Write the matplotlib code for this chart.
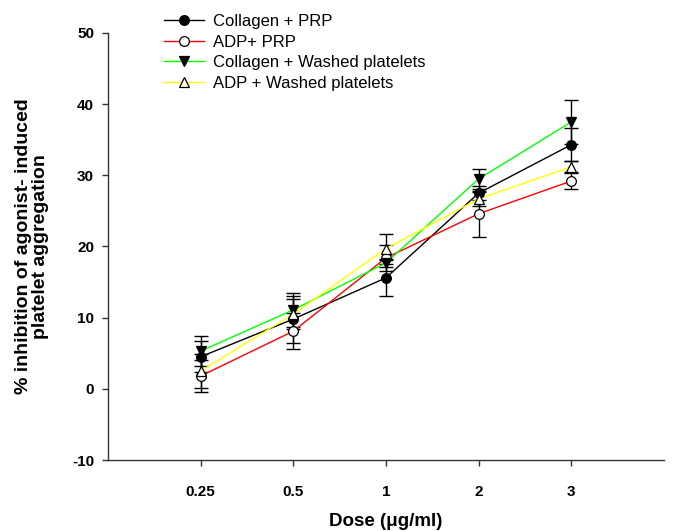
import matplotlib.pyplot as plt

plt.rcParams['font.family'] = ['Liberation Sans', 'DejaVu Sans']
plt.rcParams['axes.unicode_minus'] = False

doses = ['0.25', '0.5', '1', '2', '3']

collagen_prp = [4.5, 9.8, 15.6, 27.5, 34.3]
collagen_prp_err = [2.2, 3.3, 2.5, 1.0, 2.3]

adp_prp = [1.8, 8.1, 18.4, 24.6, 29.2]
adp_prp_err = [2.2, 2.5, 1.8, 3.2, 1.1]

collagen_washed = [5.3, 11.1, 17.7, 29.5, 37.5]
collagen_washed_err = [2.1, 2.4, 0.6, 1.4, 3.1]

adp_washed = [2.5, 10.5, 19.7, 26.7, 31.2]
adp_washed_err = [2.4, 2.1, 2.1, 1.0, 0.8]

series = [
    ('Collagen + PRP', collagen_prp, collagen_prp_err, 'black', 'o', 'black'),
    ('ADP+ PRP', adp_prp, adp_prp_err, '#ff0000', 'o', 'white'),
    ('Collagen + Washed platelets', collagen_washed, collagen_washed_err, '#00ff00', 'v', 'black'),
    ('ADP + Washed platelets', adp_washed, adp_washed_err, '#ffff00', '^', 'white'),
]

fig = plt.figure(figsize=(6.89, 5.31), dpi=100)
ax = fig.add_axes([0.1567, 0.1337, 0.807, 0.8042])

x = list(range(len(doses)))
handles = []
for label, vals, errs, color, marker, face in series:
    ax.errorbar(x, vals, yerr=errs, fmt='none', ecolor='black',
                elinewidth=1.0, capsize=5, capthick=1.0, zorder=2)
    ax.plot(x, vals, color=color, lw=1.0, zorder=3)
    ax.plot(x, vals, ls='none', marker=marker, ms=7, mfc=face,
            mec='black', mew=0.9, zorder=4)
    h, = ax.plot([], [], color=color, lw=1.0, marker=marker, ms=7,
                 mfc=face, mec='black', mew=0.9)
    handles.append((h, label))

ax.set_xlim(-1, 5)
ax.set_ylim(-10, 50)
ax.set_xticks(x)
ax.set_xticklabels(doses)
ax.set_yticks(range(-10, 51, 10))

for s in ['top', 'right']:
    ax.spines[s].set_visible(False)
for s in ['left', 'bottom']:
    ax.spines[s].set_linewidth(1.0)
    ax.spines[s].set_color('#333333')

ax.tick_params(direction='out', length=4, width=1.0, colors='#333333',
               labelcolor='black', labelsize=11)
ax.tick_params(axis='x', pad=14)
ax.tick_params(axis='y', pad=6)
for lbl in ax.get_xticklabels() + ax.get_yticklabels():
    lbl.set_fontweight('bold')

ax.set_xlabel('Dose (\u03bcg/ml)', fontsize=13.5, fontweight='bold', va='center')
ax.xaxis.set_label_coords(0.5, -0.145)
ax.set_ylabel('% inhibition of agonist- induced\nplatelet aggregation',
              fontsize=14, fontweight='bold', linespacing=1.0, va='center')
ax.yaxis.set_label_coords(-0.137, 0.5)

fig.legend([h for h, _ in handles], [l for _, l in handles],
           loc='upper left', bbox_to_anchor=(0.228, 0.986), frameon=False,
           fontsize=12, handlelength=2.4, handletextpad=0.55,
           labelspacing=0.33, borderaxespad=0)

fig.savefig('out.png', dpi=100)
